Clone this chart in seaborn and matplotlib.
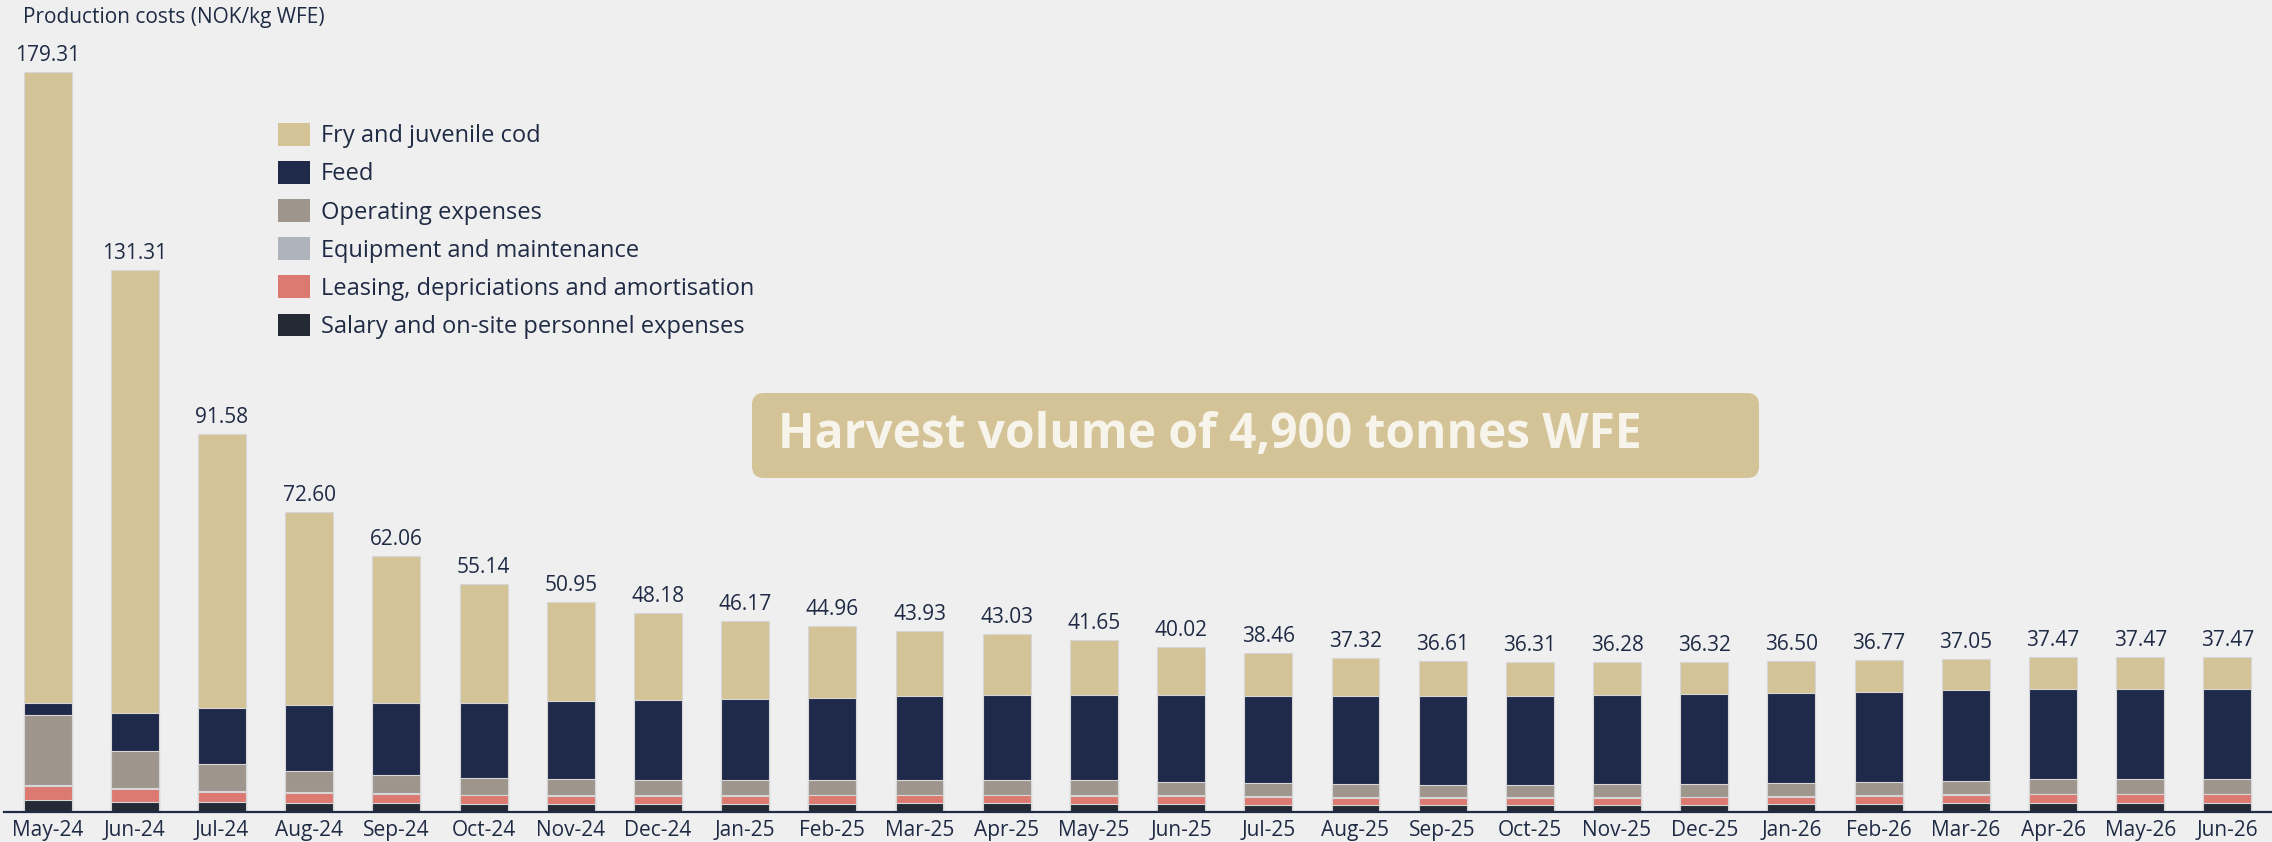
import numpy as np
import matplotlib
matplotlib.use("Agg")
import matplotlib.pyplot as plt
import seaborn as sns
from matplotlib.patches import Patch, FancyBboxPatch
from matplotlib.transforms import IdentityTransform

# Monthly production cost per kg WFE, split by cost component
months = ["May-24", "Jun-24", "Jul-24", "Aug-24", "Sep-24", "Oct-24", "Nov-24",
          "Dec-24", "Jan-25", "Feb-25", "Mar-25", "Apr-25", "May-25", "Jun-25",
          "Jul-25", "Aug-25", "Sep-25", "Oct-25", "Nov-25", "Dec-25", "Jan-26",
          "Feb-26", "Mar-26", "Apr-26", "May-26", "Jun-26"]

salary = [2.83, 2.50, 2.34, 2.18, 2.10, 1.94, 1.94, 1.94, 1.94, 1.94, 2.10, 2.10, 1.94,
          1.94, 1.70, 1.62, 1.62, 1.62, 1.70, 1.70, 1.94, 1.94, 2.10, 2.10, 2.10, 2.10]
leasing = [3.55, 3.07, 2.58, 2.42, 2.26, 2.10, 2.02, 1.94, 1.94, 2.10, 1.94, 1.94, 1.94,
           1.94, 1.94, 1.78, 1.78, 1.78, 1.78, 1.86, 1.70, 1.94, 2.02, 2.18, 2.18, 2.18]
equipment = [0.15] * 26
operating = [17.00, 8.97, 6.46, 5.17, 4.36, 4.04, 3.88, 3.80, 3.72, 3.63, 3.63, 3.63, 3.63,
             3.31, 3.23, 3.15, 2.91, 2.99, 3.07, 3.15, 3.23, 3.31, 3.31, 3.55, 3.55, 3.55]
feed = [2.83, 9.29, 13.73, 16.00, 17.53, 18.26, 18.82, 19.22, 19.55, 19.87, 20.19, 20.52,
        20.76, 20.92, 21.08, 21.32, 21.57, 21.65, 21.73, 21.81, 21.81, 21.81, 21.89, 21.89,
        21.89, 21.89]
fry = [152.95, 107.33, 66.32, 46.68, 35.66, 28.65, 24.14, 21.13, 18.87, 17.27, 15.92, 14.69,
       13.23, 11.76, 10.36, 9.30, 8.58, 8.12, 7.85, 7.65, 7.67, 7.62, 7.58, 7.60, 7.60, 7.60]

series_labels = ["Salary and on-site personnel expenses",
                 "Leasing, depriciations and amortisation",
                 "Equipment and maintenance",
                 "Operating expenses",
                 "Feed",
                 "Fry and juvenile cod"]
series_colors = ["#232a36", "#dc7970", "#aeb3bc", "#9e958d", "#1f2a4a", "#d3c396"]

BG = "#efefef"
TXT = "#1f2a44"
W, H = 2272, 842

sns.set_theme(style="white")
plt.rcParams["font.family"] = ["Open Sans", "DejaVu Sans"]

fig = plt.figure(figsize=(W / 100, H / 100), dpi=100, facecolor=BG)
ax = fig.add_axes([4 / W, 30 / H, 2267 / W, 812 / H])
ax.set_facecolor(BG)

layers = np.vstack([salary, leasing, equipment, operating, feed, fry])
cumulative = np.cumsum(layers, axis=0)

# Stacked bars: draw running totals from the top layer down
for i in reversed(range(len(series_labels))):
    sns.barplot(x=months, y=cumulative[i], order=months, color=series_colors[i],
                saturation=1, width=0.55, errorbar=None, edgecolor="#d6d6d6",
                linewidth=0.8, ax=ax)

totals = cumulative[-1]
for i, t in enumerate(totals):
    ax.annotate(f"{t:.2f}", (i, t), xytext=(0, 8), textcoords="offset points",
                ha="center", va="baseline", fontsize=15, color=TXT)

ax.set_xlim(-0.5, len(months) - 0.5)
ax.set_ylim(0, 196.76)
ax.set_yticks([])
ax.set_xlabel("")
ax.set_ylabel("")
for s in ["top", "right", "left"]:
    ax.spines[s].set_visible(False)
ax.spines["bottom"].set_color(TXT)
ax.spines["bottom"].set_linewidth(1.6)
ax.tick_params(axis="x", length=0, pad=6, labelsize=15, labelcolor=TXT)

# Legend, top layer first
handles = [Patch(facecolor=series_colors[i], edgecolor="none", label=series_labels[i])
           for i in reversed(range(len(series_labels)))]
fig.legend(handles=handles, loc="upper left", bbox_to_anchor=(278 / W, 1 - 123 / H),
           frameon=False, fontsize=17, labelcolor=TXT, handlelength=1.36,
           handleheight=1.1, handletextpad=0.47, labelspacing=0.54,
           borderpad=0, borderaxespad=0)

fig.text(23 / W, 1 - 18 / H, "Production costs (NOK/kg WFE)", ha="left", va="center",
         fontsize=15, color=TXT)

# Harvest volume callout
box = FancyBboxPatch((752, H - 478), 1007, 85, boxstyle="round,pad=0,rounding_size=12",
                     transform=IdentityTransform(), facecolor="#d3c396", edgecolor="none")
fig.add_artist(box)
fig.text(778 / W, 1 - 435 / H, "Harvest volume of 4,900 tonnes WFE", ha="left",
         va="center", fontsize=34.5, fontweight="bold", color="#f7f4ec")

fig.savefig("out.png", dpi=100, facecolor=BG)
